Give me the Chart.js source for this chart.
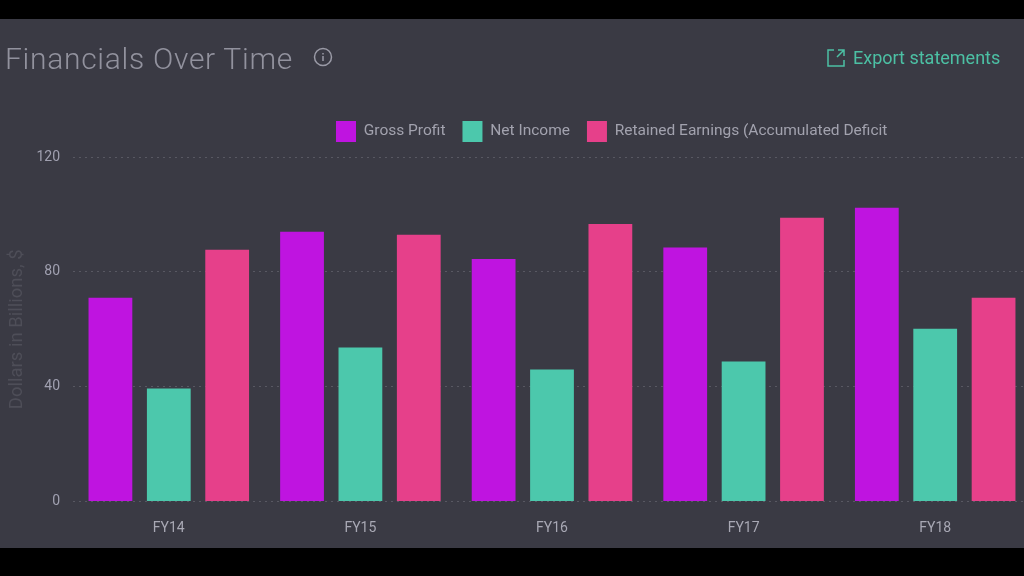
<!DOCTYPE html>
<html>
<head>
<meta charset="utf-8">
<script src="https://cdn.jsdelivr.net/npm/chart.js@4/dist/chart.umd.min.js"></script>
<style>
  html, body { margin: 0; padding: 0; background: #000; width: 1024px; height: 576px; overflow: hidden; }
  #panel { position: absolute; left: 0; top: 19px; width: 1024px; height: 529px; background: #3a3a44; }
  #wrap { position: absolute; left: 0; top: 0; width: 1031px; height: 576px; }
  .txt { position: absolute; font-family: Roboto, sans-serif; white-space: nowrap; }
  #title { left: 5px; top: 41px; font-size: 30px; font-weight: 300; color: #92929e; letter-spacing: 0.7px; }
  #exportText { left: 853px; top: 47px; font-size: 18px; color: #4cc0a4; }
  svg { position: absolute; }
</style>
</head>
<body>
<div id="panel"></div>
<div id="wrap"><canvas id="myChart" width="1031" height="576"></canvas></div>
<div id="title" class="txt">Financials Over Time</div>
<svg style="left:313px;top:47px" width="20" height="20" viewBox="0 0 20 20" fill="none" stroke="#9a9aa6" stroke-width="1.5">
  <circle cx="10" cy="10" r="8.5"></circle>
  <path d="M10 9v5M10 6v1.6"></path>
</svg>
<svg style="left:826px;top:48px" width="20" height="20" viewBox="0 0 20 20" fill="none" stroke="#4cc0a4" stroke-width="1.5">
  <path d="M8 2H2v16h16v-6M11 9l7-7M12 2h6v6"></path>
</svg>
<div id="exportText" class="txt">Export statements</div>
<script>
var categories = ["FY14", "FY15", "FY16", "FY17", "FY18"];
var grossProfit = [71, 94, 84.5, 88.5, 102.3];
var netIncome = [39.4, 53.6, 46, 48.8, 60.2];
var retainedEarnings = [87.7, 92.9, 96.7, 98.8, 71];
var yTicks = [0, 40, 80, 120];

var fontName = "Roboto, sans-serif";

// legend sits off centre in the reference, and leaves a gap above the plot
var legendPlace = {
  id: "legendPlace",
  beforeInit: function (chart) {
    var fit = chart.legend.fit;
    chart.legend.fit = function () {
      fit.call(this);
      this.height += 5;
    };
  },
  afterLayout: function (chart) {
    chart.legend.left = 319;
    chart.legend.right = 1000;
  },
};

var ctx = document.getElementById("myChart").getContext("2d");

var myChart = new Chart(ctx, {
  type: "bar",
  data: {
    labels: categories,
    datasets: [
      { label: "Gross Profit", data: grossProfit, backgroundColor: "#bf14e0" },
      { label: "Net Income", data: netIncome, backgroundColor: "#4cc8ac" },
      { label: "Retained Earnings (Accumulated Deficit", data: retainedEarnings, backgroundColor: "#e6408a" },
    ],
  },
  plugins: [legendPlace],
  options: {
    responsive: false,
    animation: false,
    events: [],
    datasets: { bar: { barPercentage: 0.75, categoryPercentage: 0.914 } },
    layout: { padding: { top: 104, bottom: 28.5, left: 0, right: 0 } },
    plugins: {
      tooltip: { enabled: false },
      legend: {
        position: "top",
        align: "start",
        labels: {
          boxWidth: 20,
          boxHeight: 21,
          padding: 17,
          color: "#a2a2ae",
          font: { family: fontName, size: 15.5 },
        },
      },
    },
    scales: {
      x: {
        grid: { display: false },
        border: { display: false },
        ticks: { color: "#a8a8b4", padding: 11, font: { family: fontName, size: 14 } },
        afterFit: function (scale) {
          scale.height = 46;
        },
      },
      y: {
        min: 0,
        max: 120,
        afterFit: function (scale) {
          scale.width = 73;
        },
        afterBuildTicks: function (scale) {
          scale.ticks = yTicks.map(function (v) {
            return { value: v };
          });
        },
        grid: { color: "#585862", lineWidth: 1, drawTicks: false },
        border: { display: false, dash: [2, 4] },
        ticks: { color: "#a0a0b0", padding: 13, font: { family: fontName, size: 14 } },
        title: {
          display: true,
          text: "Dollars in Billions, $",
          color: "#4e4e58",
          padding: { top: 6, bottom: 0 },
          font: { family: fontName, size: 18.5 },
        },
      },
    },
  },
});
</script>
</body>
</html>
